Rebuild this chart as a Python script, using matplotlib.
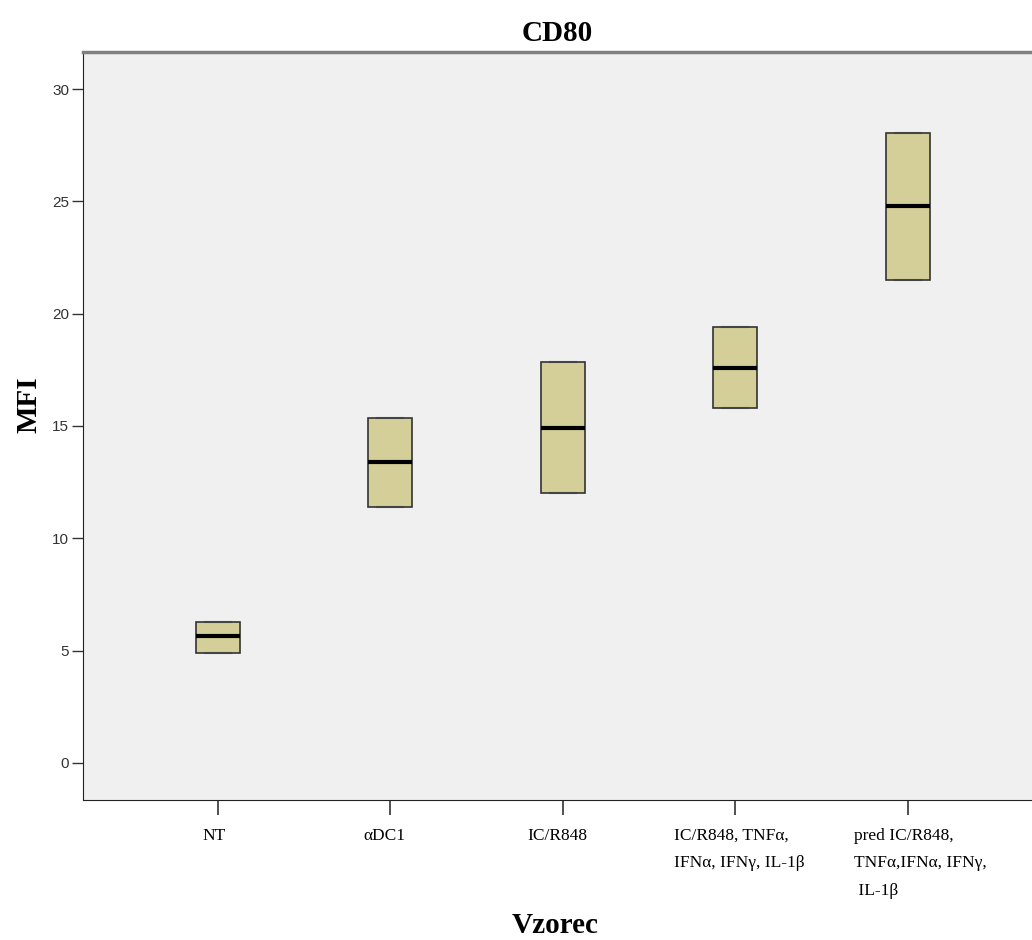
import matplotlib.pyplot as plt
from matplotlib.transforms import ScaledTranslation

# CD80 MFI per sample
categories = ['NT', 'αDC1', 'IC/R848', 'IC/R848, TNFα,\nIFNα, IFNγ, IL-1β',
              'pred IC/R848,\nTNFα,IFNα, IFNγ,\n IL-1β']
q1 = [4.90, 11.39, 12.02, 15.80, 21.50]
median = [5.65, 13.40, 14.91, 17.58, 24.79]
q3 = [6.27, 15.35, 17.85, 19.40, 28.04]
yticks = [0, 5, 10, 15, 20, 25, 30]

serif = ['Liberation Serif', 'DejaVu Serif']
sans = ['Liberation Sans', 'DejaVu Sans']

fig = plt.figure(figsize=(10.32, 9.4), dpi=100)
ax = fig.add_axes([0.0804, 0.149, 0.9196, 0.7957])
ax.set_facecolor('#f0f0f0')

stats = []
for i in range(len(categories)):
    stats.append({'label': categories[i], 'q1': q1[i], 'med': median[i], 'q3': q3[i],
                  'whislo': q1[i], 'whishi': q3[i], 'fliers': []})

ax.bxp(stats, positions=range(len(categories)), widths=0.255, patch_artist=True,
       showfliers=False, capwidths=0.15,
       boxprops=dict(facecolor='#d4cf98', edgecolor='#333333', linewidth=1.2),
       medianprops=dict(color='black', linewidth=3),
       whiskerprops=dict(color='#333333', linewidth=1),
       capprops=dict(color='#444444', linewidth=1.5))

ax.set_xlim(-0.78, 4.72)
ax.set_ylim(-1.65, 31.65)
ax.set_yticks(yticks)
ax.set_yticklabels([str(v) for v in yticks], fontfamily=sans, fontsize=11, color='#333333')
ax.set_xticks(range(len(categories)))
ax.set_xticklabels(categories, fontfamily=serif, fontsize=12.5, linespacing=1.95)

ax.tick_params(axis='y', length=8, width=1, color='#333333', pad=2)
ax.tick_params(axis='x', length=11, width=1.2, color='#333333', pad=9)

# small horizontal nudges so the wrapped labels sit like the original
shifts = [-3, -6, -5, 4, 13]
for lbl, dx in zip(ax.get_xticklabels(), shifts):
    lbl.set_multialignment('left')
    lbl.set_transform(lbl.get_transform() + ScaledTranslation(dx / 100, 0, fig.dpi_scale_trans))

ax.spines['right'].set_visible(False)
ax.spines['top'].set_color('#808080')
ax.spines['top'].set_linewidth(2.5)
ax.spines['left'].set_color('#222222')
ax.spines['bottom'].set_color('#222222')

ax.set_title('CD80', fontfamily=serif, fontsize=21, fontweight='bold', pad=8)
fig.text(0.538, 0.015, 'Vzorec', fontfamily=serif, fontsize=21, fontweight='bold',
         ha='center', va='center')
fig.text(0.028, 0.569, 'MFI', fontfamily=serif, fontsize=21, fontweight='bold',
         rotation=90, ha='center', va='center')

fig.savefig('out.png', dpi=100)
